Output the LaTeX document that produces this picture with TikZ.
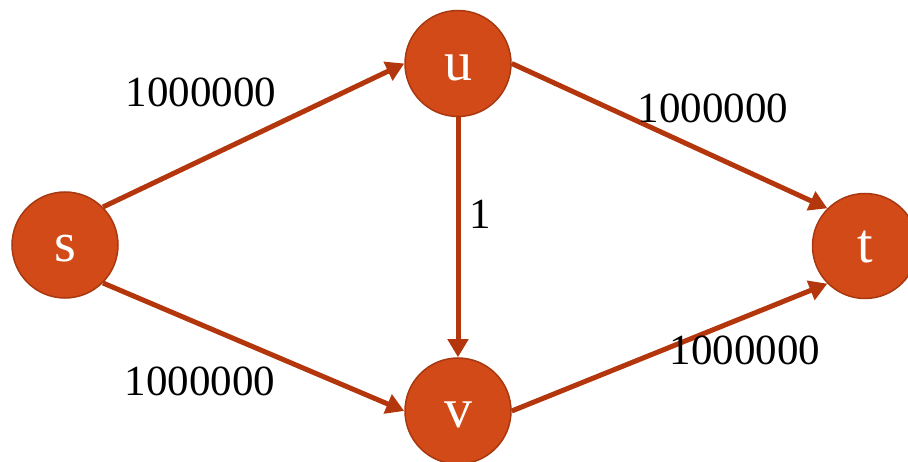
\documentclass[tikz,border=0pt]{standalone}
\usepackage{fontspec}
\setmainfont{Liberation Serif}
\usetikzlibrary{arrows.meta}
\definecolor{nodefill}{HTML}{D24A18}
\definecolor{nodeline}{HTML}{A8380F}
\definecolor{edgecol}{HTML}{B3360C}
\begin{document}
\begin{tikzpicture}[x=1pt,y=-1pt,
  vertex/.style={circle,fill=nodefill,draw=nodeline,line width=1.5pt,minimum size=106pt,inner sep=0pt,text height=34pt,text depth=0pt,text=white,font=\fontsize{56}{60}\selectfont},
  flow/.style={draw=edgecol,line width=5pt,-{Triangle[length=18pt,width=20pt]}},
  weight/.style={font=\fontsize{43}{50}\selectfont}]
\useasboundingbox (0,0) rectangle (908,462);
\node[vertex] (s) at (65,245) {s};
\node[vertex] (u) at (458,63.5) {u};
\node[vertex] (v) at (458,411) {v};
\node[vertex,minimum size=105pt] (t) at (865,246) {t};
\draw[flow] (s.north east) -- (u.west);
\draw[flow] (s.south east) -- (v.west);
\draw[flow] (u.south) -- (v.north);
\draw[flow] (u.east) -- (t.north west);
\draw[flow] (v.east) -- (t.south west);
\node[weight] (su) at (201,92) {1000000};
\node[weight] (sv) at (200,381) {1000000};
\node[weight] (ut) at (713,108) {1000000};
\node[weight] (vt) at (745,350) {1000000};
\node[weight] (uv) at (480,214) {1};
\end{tikzpicture}
\end{document}
